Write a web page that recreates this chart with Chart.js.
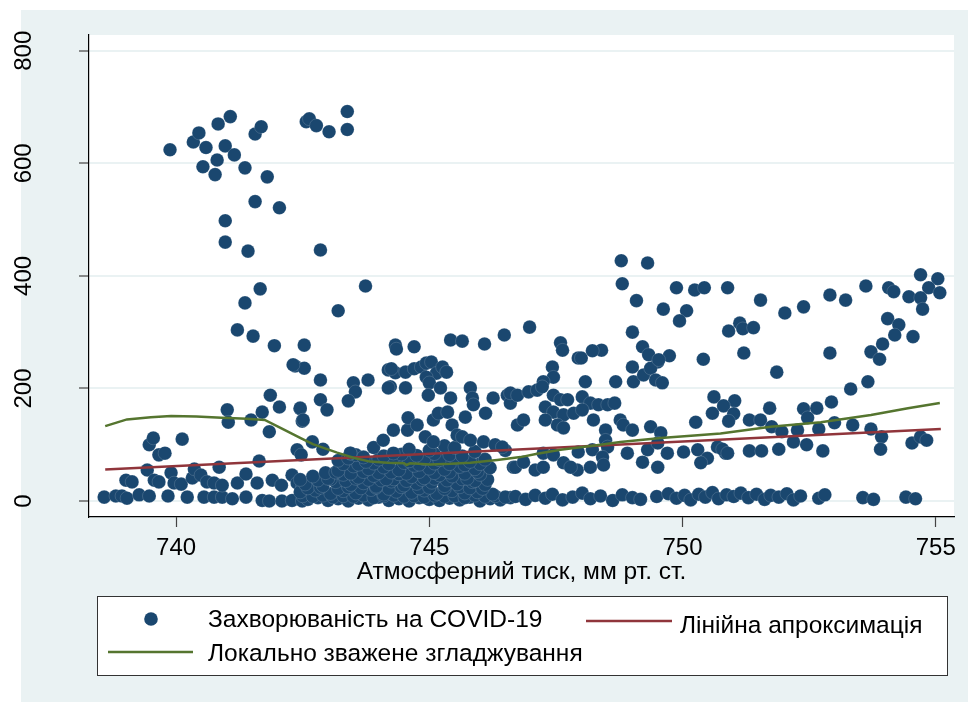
<!DOCTYPE html>
<html>
<head>
<meta charset="utf-8">
<script src="https://cdn.jsdelivr.net/npm/chart.js@4.4.1/dist/chart.umd.min.js"></script>
<style>
  html, body { margin: 0; padding: 0; background: #ffffff; }
  canvas { display: block; }
</style>
</head>
<body>
<canvas id="chart" width="968" height="704"></canvas>
<script>
// Axis ticks and ranges
const xTicks = [740, 745, 750, 755];
const yTicks = [0, 200, 400, 600, 800];
const xRange = [738.28, 755.36];
const yRange = [-28.4, 828];

const xTitle = 'Атмосферний тиск, мм рт. ст.';
const seriesNames = ['Захворюваність на COVID-19', 'Лінійна апроксимація', 'Локально зважене згладжування'];

// Daily incidence vs. atmospheric pressure: [pressure, incidence]
const observations = [
  // high-incidence period
  [739.88,624],[740.34,638],[740.45,654],[740.59,628],[740.53,594],[740.77,580],[740.81,606],[740.83,670],
  [740.97,631],[741.07,683],[741.15,615],[741.36,592],[741.56,652],[741.68,665],[741.80,576],[741.56,532],
  [742.04,521],[740.97,498],[740.97,460],[741.42,444],[742.85,446],[742.57,674],[742.63,679],[742.77,667],
  [743.02,656],[743.38,692],[743.38,660],
  [741.66,377],[741.36,352],[743.74,382],[743.20,338],[741.21,304],[741.52,293],[741.94,276],[742.53,277],
  [742.35,240],[742.53,236],[742.31,242],
  [741.01,162],[741.03,140],[741.48,144],[741.70,158],[741.86,188],[742.04,167],[741.84,123],[742.45,164],
  [742.49,142],[742.39,91],[742.47,82],[739.47,100],[739.55,112],[739.66,82],[739.78,85],[740.12,110],[741.64,71],
  // low pressure, low incidence
  [738.58,7],[738.81,9],[738.93,9],[739.03,5],[739.27,11],[739.47,9],[739.84,9],[740.22,7],[740.55,7],[740.75,7],
  [740.91,7],[741.11,4],[741.38,7],[741.70,1],[741.84,0],[742.09,0],[742.29,1],[742.49,0],
  [739.01,37],[739.13,34],[739.43,55],[739.57,37],[739.66,34],[739.90,50],[739.96,32],[740.10,30],[740.32,41],
  [740.36,57],[740.49,46],[740.61,34],[740.75,32],[740.91,28],[740.85,60],[741.21,32],[741.38,48],[741.60,32],
  [741.90,37],[742.08,28],[742.29,46],[742.39,32],[742.49,25],
  // 742–747 mmHg, bulk of the days
  [742.6,3],[742.8,6],[743.0,1],[743.2,4],[743.4,0],[743.6,5],[743.8,2],[744.0,7],[744.2,1],[744.4,4],[744.6,0],
  [744.8,6],[745.0,3],[745.2,1],[745.4,5],[745.6,2],[745.8,7],[746.0,0],[746.2,4],[746.4,2],[746.6,6],
  [742.5,9],[742.7,8],[742.9,10],[743.1,7],[743.3,9],[743.5,8],[743.7,10],[743.9,6],[744.1,9],[744.3,10],
  [744.5,8],[744.7,9],[744.9,7],[745.1,10],[745.3,8],[745.5,9],[745.7,6],[745.9,10],[746.1,8],[746.3,9],[746.5,7],
  [742.45,16],[742.75,19],[743.05,13],[743.3,18],[743.55,14],[743.85,20],[744.1,12],[744.35,17],[744.65,15],
  [744.9,19],[745.15,13],[745.45,18],[745.7,14],[745.95,16],[746.25,12],
  [742.6,23],[742.85,24],[743.2,22],[743.4,25],[743.65,23],[743.95,24],[744.2,22],[744.45,25],[744.8,23],
  [745.0,24],[745.3,22],[745.6,25],[745.8,23],[746.05,22],
  [742.55,30],[742.9,27],[743.15,34],[743.45,29],[743.7,32],[743.95,26],[744.25,35],[744.5,28],[744.75,31],
  [745.05,33],[745.3,27],[745.55,30],[745.85,34],[746.1,29],
  [742.45,38],[742.8,37],[743.05,39],[743.35,36],[743.55,40],[743.8,38],[744.05,37],[744.3,39],[744.55,36],
  [744.85,38],[745.1,40],[745.35,37],[745.65,39],[745.9,36],[746.15,38],
  [742.7,44],[743.0,40],[743.3,47],[743.6,42],[743.9,45],[744.15,39],[744.4,48],[744.65,43],[744.9,41],
  [745.2,46],[745.45,44],[745.75,40],[746.0,47],
  [742.95,50],[743.15,51],[743.45,49],[743.7,52],[744.0,50],[744.25,51],[744.55,49],[744.8,52],[745.1,50],
  [745.4,51],[745.7,49],[745.95,52],
  [743.2,54],[743.5,62],[743.8,57],[744.1,60],[744.4,55],[744.7,63],[745.0,58],[745.3,56],[745.6,61],
  [745.9,57],[746.2,59],
  [743.3,66],[743.6,65],[743.9,67],[744.2,66],[744.5,68],[744.8,65],[745.1,67],[745.4,66],[745.7,64],[746.0,66],
  [743.2,72],[743.4,76],[743.75,70],[744.0,74],[744.3,78],[744.6,71],[744.9,75],[745.2,73],[745.5,77],
  [745.8,70],[746.1,74],
  [743.55,82],[744.1,80],[744.45,83],[744.75,81],[745.1,84],[745.4,82],[745.65,80],
  [742.9,92],[743.44,85],[743.9,95],[744.29,85],[744.6,92],[745.0,90],[745.3,98],[745.5,95],[745.9,88],[746.5,90],
  [743.70,78],[742.69,105],[744.09,108],[744.29,126],[744.57,126],[744.58,148],[744.76,135],[745.08,144],
  [745.18,156],[745.36,158],[745.45,135],[744.92,114],[745.08,105],[745.55,117],[745.65,114],[745.81,108],
  [745.71,149],[746.07,105],[746.11,156],[746.30,100],[746.44,96],[746.66,60],[746.74,135],
  // 742–748 mmHg, 150–310
  [742.85,215],[743.50,210],[743.79,215],[743.54,194],[744.23,203],[744.53,201],[744.19,233],[744.33,228],
  [744.53,229],[744.70,235],[744.84,238],[744.94,245],[745.04,247],[745.14,227],[745.26,238],[745.34,229],
  [744.94,220],[745.00,210],[744.19,201],[744.98,188],[745.22,201],[745.42,183],[745.81,201],[745.85,183],
  [745.87,171],[746.26,183],[746.54,188],[746.60,174],[744.33,277],[744.35,270],[744.70,274],[745.42,286],
  [745.65,284],[746.09,279],[746.48,295],[746.98,309],[747.59,281],[747.63,268],[747.94,254],[744.25,235],
  [747.43,238],[742.85,180],[742.98,162],[743.40,178],[742.45,165],[742.51,144],[743.44,85],
  // 746.5–751 mmHg
  [748.0,254],[749.51,247],[747.45,220],[747.25,212],[748.08,212],[748.68,212],[749.01,238],[749.03,212],
  [749.23,224],[749.37,236],[749.47,215],[749.60,210],
  [746.6,192],[746.74,188],[746.96,194],[747.13,197],[747.23,203],
  [747.29,167],[747.45,188],[747.59,180],[747.73,180],[748.02,185],[748.18,174],[748.34,171],[748.52,171],[748.66,174],
  [747.45,158],[747.65,153],[747.85,156],[748.02,162],[748.24,144],[747.53,135],[747.29,144],[747.65,130],
  [746.86,144],[748.77,144],[748.83,135],[748.48,126],[749.01,126],[749.37,132],[749.57,121],[750.26,140],
  [750.62,185],[750.59,156],
  [748.48,108],[748.52,96],[748.91,85],[749.31,91],[749.51,103],[749.70,85],[750.02,87],[750.30,91],[750.49,76],
  [750.69,96],[750.85,85],[747.25,85],[747.45,82],[747.94,87],[748.22,91],[748.42,78],[749.21,69],[749.51,60],
  [750.36,68],[746.70,60],[746.86,69],[747.09,55],[747.25,60],[747.65,68],[747.92,55],[748.18,60],[748.44,64],[747.79,60],
  // high pressure
  [748.79,427],[749.31,423],[748.81,386],[749.09,356],[749.88,379],[749.62,341],[750.08,338],[749.94,320],
  [750.24,375],[750.43,379],[750.89,379],[749.01,300],[749.21,274],[749.33,260],[749.74,258],[749.53,251],
  [748.40,268],[748.22,267],[750.91,302],[751.13,316],[751.19,306],[751.40,308],[751.54,357],[751.21,263],
  [750.41,252],[752.02,334],[752.39,345],[752.91,366],[753.22,357],[753.62,382],[754.07,379],[754.17,372],
  [754.47,363],[754.70,402],[755.04,395],[754.86,379],[755.08,370],[754.70,361],[754.74,341],[754.05,324],
  [754.27,313],[754.19,295],[754.55,292],[753.95,279],[753.72,265],[752.91,263],[753.89,252],
  [751.86,229],[753.66,212],[753.32,199],[751.03,178],[750.81,169],[751.01,155],[750.91,142],[751.32,144],
  [751.54,144],[751.72,165],[752.39,164],[752.65,165],[752.94,176],[752.47,148],[753.0,139],[753.36,135],
  [751.76,132],[751.96,123],[752.27,126],[752.69,128],[752.19,105],[752.45,100],[753.72,128],[753.93,114],
  [753.91,92],[754.53,103],[754.70,114],[754.82,108],[750.79,92],[750.89,85],[751.32,89],[751.56,89],
  [751.90,92],[752.77,89],
  // near-zero days above 746.7 mmHg
  [746.7,8],[746.9,3],[747.09,10],[747.29,5],[747.43,12],[747.63,2],[747.83,7],[748.02,14],[748.18,4],[748.38,9],
  [748.62,1],[748.81,11],[749.01,6],[749.17,3],[749.49,8],[749.72,13],[749.88,5],[750.04,10],[750.16,2],[750.32,12],
  [750.45,7],[750.59,15],[750.71,4],[750.87,11],[751.01,8],[751.15,14],[751.30,6],[751.46,12],[751.62,3],[751.74,10],
  [751.90,7],[752.06,13],[752.19,2],[752.33,9],[752.69,5],[752.81,11],[753.56,6],[753.77,3],[754.41,7],[754.60,4]
];

// Linear fit endpoints
const linearFit = [[738.6, 56], [755.1, 128]];

// Lowess curve
const lowessFit = [
  [738.6,133],[739.03,145],[739.5,149],[739.9,151],[740.4,150],[740.9,148],[741.4,146],[741.75,144],
  [742.1,128],[742.45,112],[742.7,101],[743.18,86],[743.5,77],[743.83,70],[744.17,68],[744.5,67],
  [744.55,64],[744.62,67],[745.02,65],[745.42,66],[745.81,68],[746.34,73],[746.8,78],[747.13,84],
  [747.59,91],[748.38,100],[748.77,105],[749.57,112],[750.3,117],[750.75,120],[751.74,132],[752.73,140],
  [753.72,153],[754.45,165],[755.08,174]
];

const FONT = '"Liberation Sans", Arial, sans-serif';
const PANEL = '#EAF2F3';
const NAVY = '#1A476F';
const MAROON = '#90353B';
const OLIVE = '#55752F';

const toXY = arr => arr.map(([x, y]) => ({ x, y }));

const frame = {
  id: 'frame',
  beforeDraw(chart) {
    const { ctx, chartArea: a } = chart;
    ctx.save();
    ctx.fillStyle = '#ffffff';
    ctx.fillRect(0, 0, chart.width, chart.height);
    ctx.fillStyle = PANEL;
    ctx.fillRect(21, 10, chart.width - 21, chart.height - 12);
    ctx.fillStyle = '#ffffff';
    ctx.fillRect(a.left, a.top, a.right - a.left, a.bottom - a.top);
    ctx.restore();
  },
  afterDraw(chart) {
    const { ctx, chartArea: a } = chart;
    const xs = chart.scales.x, ys = chart.scales.y;
    ctx.save();
    ctx.fillStyle = '#000';
    ctx.font = '24px ' + FONT;
    ctx.textBaseline = 'alphabetic';
    ctx.textAlign = 'center';
    // vertical axis labels, reading upwards
    yTicks.forEach(v => {
      ctx.save();
      ctx.translate(31, ys.getPixelForValue(v));
      ctx.rotate(-Math.PI / 2);
      ctx.fillText(String(v), 0, 0);
      ctx.restore();
    });
    // horizontal axis labels
    xTicks.forEach(v => ctx.fillText(String(v), xs.getPixelForValue(v), 555));
    ctx.font = '24.5px ' + FONT;
    ctx.fillText(xTitle, (a.left + a.right) / 2, 579);

    // legend box
    ctx.fillStyle = '#ffffff';
    ctx.fillRect(97, 596, 850, 79);
    ctx.strokeStyle = '#333';
    ctx.lineWidth = 1;
    ctx.strokeRect(97.5, 596.5, 850, 79);
    ctx.fillStyle = NAVY;
    ctx.beginPath();
    ctx.arc(151, 619, 6.8, 0, Math.PI * 2);
    ctx.fill();
    ctx.lineWidth = 2.5;
    ctx.strokeStyle = MAROON;
    ctx.beginPath(); ctx.moveTo(586, 621); ctx.lineTo(672, 621); ctx.stroke();
    ctx.strokeStyle = OLIVE;
    ctx.beginPath(); ctx.moveTo(108, 652); ctx.lineTo(193, 652); ctx.stroke();
    ctx.fillStyle = '#000';
    ctx.font = '24.5px ' + FONT;
    ctx.textAlign = 'left';
    ctx.fillText(seriesNames[0], 208, 627);
    ctx.fillText(seriesNames[1], 680, 633);
    ctx.fillText(seriesNames[2], 208, 661);
    ctx.restore();
  }
};

new Chart(document.getElementById('chart'), {
  type: 'scatter',
  data: {
    datasets: [
      {
        label: seriesNames[2], type: 'line', data: toXY(lowessFit),
        borderColor: OLIVE, borderWidth: 2.5, pointRadius: 0, tension: 0, fill: false, order: 0
      },
      {
        label: seriesNames[1], type: 'line', data: toXY(linearFit),
        borderColor: MAROON, borderWidth: 2.5, pointRadius: 0, tension: 0, fill: false, order: 1
      },
      {
        label: seriesNames[0], data: toXY(observations),
        pointRadius: 6.8, pointBackgroundColor: NAVY,
        pointBorderColor: 'rgba(255,255,255,0.3)', pointBorderWidth: 0.5, order: 2
      }
    ]
  },
  options: {
    responsive: false,
    animation: false,
    layout: { padding: { top: 35, right: 14, bottom: 127, left: 0 } },
    plugins: { legend: { display: false }, tooltip: { enabled: false } },
    scales: {
      x: {
        type: 'linear', min: xRange[0], max: xRange[1],
        afterBuildTicks: s => { s.ticks = xTicks.map(v => ({ value: v })); },
        afterFit: s => { s.height = 60; },
        ticks: { display: false },
        grid: { drawOnChartArea: false, drawTicks: true, tickLength: 10, tickColor: '#444', tickWidth: 1.2 },
        border: { display: true, color: '#000', width: 1.2 }
      },
      y: {
        type: 'linear', min: yRange[0], max: yRange[1],
        afterBuildTicks: s => { s.ticks = yTicks.map(v => ({ value: v })); },
        afterFit: s => { s.width = 89; },
        ticks: { display: false },
        grid: { color: PANEL, lineWidth: 2, drawTicks: true, tickLength: 10, tickColor: '#444', tickWidth: 1.2 },
        border: { display: true, color: '#000', width: 1.2 }
      }
    }
  },
  plugins: [frame]
});
</script>
</body>
</html>
